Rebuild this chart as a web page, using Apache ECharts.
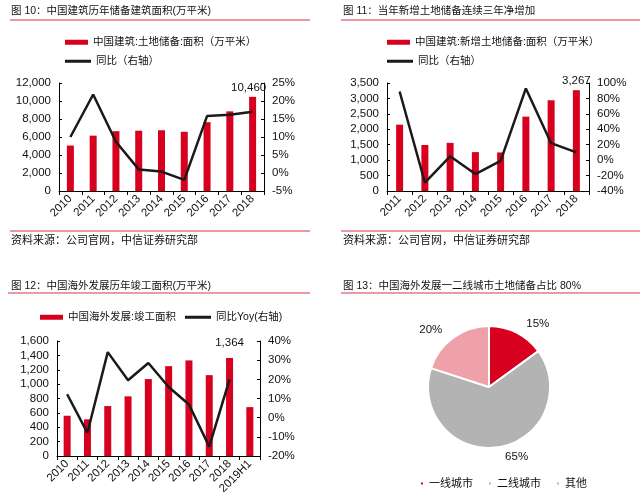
<!DOCTYPE html>
<html><head><meta charset="utf-8">
<script src="https://cdn.jsdelivr.net/npm/echarts@6/dist/echarts.min.js"></script>
<style>html,body{margin:0;padding:0;background:#fff}#c{width:640px;height:501px}</style>
</head><body><div id="c"></div>
<script>
// Panel 1
const years1 = ['2010','2011','2012','2013','2014','2015','2016','2017','2018'];
const area1 = [5050, 6150, 6650, 6700, 6750, 6580, 7650, 8850, 10460];
const yoy1 = [10.0, 21.8, 8.7, 1.0, 0.4, -1.9, 15.8, 16.2, 17];
// Panel 2
const years2 = ['2011','2012','2013','2014','2015','2016','2017','2018'];
const area2 = [2150, 1490, 1560, 1260, 1250, 2410, 2940, 3267];
const yoy2 = [89, -29, 5, -18, -1, 93, 22, 10];
// Panel 3
const years3 = ['2010','2011','2012','2013','2014','2015','2016','2017','2018','2019H1'];
const area3 = [560, 510, 695, 830, 1070, 1250, 1330, 1125, 1364, 680];
const yoy3 = [12.2, -7.9, 34.2, 19.5, 28.5, 16, 6.9, -15.1, 20, null];
// Panel 4
const pieNames = ['一线城市','二线城市','其他'];
const pieVals = [15, 65, 20];

const RED = '#d7001e', LINE = '#1a1a1a', TXT = '#111';
const FONT = 'Liberation Sans, Arial, Noto Sans CJK SC, sans-serif';
const fmt = v => Number(v).toLocaleString('en-US');

function xAxis(gi, data) {
  return {type:'category', gridIndex: gi, data,
    axisLine:{lineStyle:{color:'#000', width:1}},
    axisTick:{show:true, length:4, lineStyle:{color:'#000'}},
    axisLabel:{rotate:45, interval:0, fontSize:11.5, color:TXT, fontFamily:FONT, margin:6}};
}
function yAxis(gi, min, max, interval, pct) {
  return {type:'value', gridIndex: gi, min, max, interval, position: pct?'right':'left',
    splitLine:{show:false},
    axisLine:{show:true, lineStyle:{color:'#000', width:1}},
    axisTick:{show:true, inside:true, length:3, lineStyle:{color:'#000'}},
    axisLabel:{fontSize:11.5, color:TXT, fontFamily:FONT, margin:8,
      formatter: pct ? (v => v + '%') : fmt}};
}
function lastLabel(arr, idx, formatter, offset) {
  return arr.map((v,i) => i===idx ? {value:v, label:{show:true, position:'top', offset, formatter, fontSize:11.5, color:TXT, fontFamily:FONT}} : v);
}

const tStyle = s => ({fontSize:s, fontWeight:'normal', color:TXT, fontFamily:FONT});
const titles = [
  {text:'图 10：中国建筑历年储备建筑面积(万平米)', left:11, top:6, textStyle:tStyle(10.5)},
  {text:'图 11：当年新增土地储备连续三年净增加', left:343, top:6, textStyle:tStyle(10.5)},
  {text:'资料来源：公司官网，中信证券研究部', left:11, top:235, textStyle:tStyle(11)},
  {text:'资料来源：公司官网，中信证券研究部', left:343, top:235, textStyle:tStyle(11)},
  {text:'图 12：中国海外发展历年竣工面积(万平米)', left:11, top:281, textStyle:tStyle(10.5)},
  {text:'图 13：中国海外发展一二线城市土地储备占比 80%', left:343, top:281, textStyle:tStyle(10.5)}
].map(t => Object.assign(t, {padding:0}));

const hline = (x1, x2, y) => ({type:'line', shape:{x1, y1:y, x2, y2:y}, style:{stroke:'#d9324d', lineWidth:1}});

function legendItem(left, top, name, isLine) {
  return {left, top, padding:0, itemWidth: isLine?26:23, itemHeight: isLine?3:5, itemGap:4,
    data:[{name, icon:'rect'}], textStyle:{fontSize:10.5, color:TXT, fontFamily:FONT}, selectedMode:false};
}

const option = {
  animation:false,
  title: titles,
  graphic: [hline(10,310,20), hline(341,640,20), hline(10,310,231), hline(341,640,231), hline(8,310,293), hline(341,640,293)],
  legend: [
    legendItem(65, 37, '中国建筑:土地储备:面积（万平米）', false),
    legendItem(65, 56, '同比（右轴）', true),
    legendItem(387, 37, '中国建筑:新增土地储备:面积（万平米）', false),
    legendItem(387, 56, '同比（右轴） ', true),
    legendItem(40, 312, '中国海外发展:竣工面积', false),
    legendItem(185, 312, '同比Yoy(右轴)', true),
    {left:419, top:478, padding:0, itemWidth:4, itemHeight:4, itemGap:14, icon:'rect',
      data: pieNames, textStyle:{fontSize:11, color:TXT, fontFamily:FONT}, selectedMode:false}
  ],
  grid: [
    {left:59, top:83, width:205, height:108},
    {left:387, top:83, width:202, height:108},
    {left:57, top:341, width:203, height:115}
  ],
  xAxis: [xAxis(0, years1), xAxis(1, years2), xAxis(2, years3)],
  yAxis: [
    yAxis(0, 0, 12000, 2000, false), yAxis(0, -5, 25, 5, true),
    yAxis(1, 0, 3500, 500, false), yAxis(1, -40, 100, 20, true),
    yAxis(2, 0, 1600, 200, false), yAxis(2, -20, 40, 10, true)
  ],
  series: [
    {type:'bar', name:'中国建筑:土地储备:面积（万平米）', xAxisIndex:0, yAxisIndex:0, barWidth:7, itemStyle:{color:RED},
      data: lastLabel(area1, 8, p => fmt(p.value), [-4, 2])},
    {type:'line', name:'同比（右轴）', xAxisIndex:0, yAxisIndex:1, symbol:'none', itemStyle:{color:LINE}, lineStyle:{color:LINE, width:2.5},
      data: lastLabel(yoy1, 8, p => Math.round(p.value)+'%', [-13, 1])},
    {type:'bar', name:'中国建筑:新增土地储备:面积（万平米）', xAxisIndex:1, yAxisIndex:2, barWidth:7, itemStyle:{color:RED},
      data: lastLabel(area2, 7, p => fmt(p.value), [0, 1])},
    {type:'line', name:'同比（右轴） ', xAxisIndex:1, yAxisIndex:3, symbol:'none', itemStyle:{color:LINE}, lineStyle:{color:LINE, width:2.5},
      data: lastLabel(yoy2, 7, p => Math.round(p.value)+'%', [-5, 0])},
    {type:'bar', name:'中国海外发展:竣工面积', xAxisIndex:2, yAxisIndex:4, barWidth:7, itemStyle:{color:RED},
      data: lastLabel(area3, 8, p => fmt(p.value), [0, -4])},
    {type:'line', name:'同比Yoy(右轴)', xAxisIndex:2, yAxisIndex:5, symbol:'none', itemStyle:{color:LINE}, lineStyle:{color:LINE, width:2.5},
      data: lastLabel(yoy3, 8, p => Math.round(p.value)+'%', [9, 0])},
    {type:'pie', center:[489, 387], radius:61, startAngle:90, clockwise:true,
      itemStyle:{borderColor:'#fff', borderWidth:2},
      label:{show:true, position:'outside', formatter: p => p.value+'%', fontSize:11.5, color:TXT, fontFamily:FONT},
      labelLine:{show:false, length:10, length2:0},
      data: pieNames.map((n,i) => ({name:n, value:pieVals[i], itemStyle:{color:[RED,'#b3b3b3','#efa1aa'][i]}}))}
  ]
};
const chart = echarts.init(document.getElementById('c'), null, {renderer:'canvas'});
chart.setOption(option);
</script></body></html>
